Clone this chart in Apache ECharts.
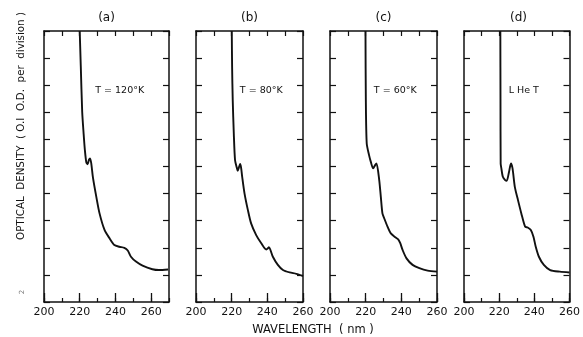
<!DOCTYPE html>
<html>
<head>
<meta charset="utf-8">
<script src="https://cdn.jsdelivr.net/npm/echarts@6/dist/echarts.min.js"></script>
<style>
  html, body { margin: 0; padding: 0; background: #fff; }
  #chart { width: 583px; height: 337px; }
</style>
</head>
<body>
<div id="chart"></div>
<script>
// Absorption spectra at four temperatures, optical density vs wavelength (nm)
const panelTitles = ['(a)', '(b)', '(c)', '(d)'];
const panelNotes = ['T = 120°K', 'T = 80°K', 'T = 60°K', 'L He T'];
const wavelengthMax = [270, 260, 260, 260];
const xTickLabels = [200, 220, 240, 260];

// [wavelength nm, optical density in divisions of 0.1 O.D.]
const spectrum120K = [
  [220.0, 10.0], [220.6, 8.7], [221.4, 7.0], [222.2, 6.2], [222.9, 5.6],
  [223.7, 5.15], [224.4, 5.08], [225.2, 5.25], [225.8, 5.3], [226.5, 5.1],
  [227.4, 4.6], [229.3, 3.88], [231.1, 3.27], [233.9, 2.66], [236.7, 2.35],
  [239.4, 2.1], [242.2, 2.04], [245.0, 2.0], [246.9, 1.9], [248.7, 1.67],
  [251.5, 1.49], [255.2, 1.34], [260.7, 1.21], [264.4, 1.18], [269.5, 1.2]
];
const spectrum80K = [
  [220.06, 10.0], [220.25, 8.67], [220.6, 7.44], [221.2, 6.21], [221.9, 5.23],
  [222.9, 4.95], [223.4, 4.84], [224.0, 4.95], [224.75, 5.09], [225.3, 4.95],
  [225.9, 4.62], [227.2, 4.01], [229.1, 3.39], [230.9, 2.9], [233.75, 2.47],
  [236.6, 2.17], [239.4, 1.94], [240.2, 1.97], [240.9, 2.02], [243.1, 1.67],
  [245.9, 1.37], [248.75, 1.18], [252.5, 1.09], [256.25, 1.04], [260.0, 0.96]
];
const spectrum60K = [
  [219.9, 10.0], [220.1, 7.44], [220.6, 5.85], [221.9, 5.42], [222.9, 5.17],
  [224.2, 4.93], [225.3, 5.05], [226.1, 5.11], [227.6, 4.5], [228.5, 3.88],
  [229.4, 3.27], [230.4, 3.09], [232.25, 2.78], [234.1, 2.53], [236.6, 2.39],
  [238.25, 2.31], [239.4, 2.17], [240.7, 1.92], [242.9, 1.61], [246.3, 1.37],
  [250.1, 1.25], [254.75, 1.16], [260.0, 1.12]
];
const spectrumLHeT = [
  [220.67, 10.0], [220.75, 7.5], [220.85, 5.11], [221.2, 4.95], [222.1, 4.62],
  [223.4, 4.5], [224.3, 4.47], [225.6, 4.8], [226.7, 5.11], [227.6, 4.93],
  [228.9, 4.25], [230.7, 3.76], [232.6, 3.27], [234.75, 2.78], [236.2, 2.75],
  [238.0, 2.66], [239.5, 2.41], [240.8, 2.04], [242.6, 1.67], [245.4, 1.37],
  [249.0, 1.18], [254.5, 1.12], [260.0, 1.09]
];
const spectra = [spectrum120K, spectrum80K, spectrum60K, spectrumLHeT];

const yAxisLabel = 'OPTICAL  DENSITY  ( O.I  O.D.  per  division )';
const xAxisLabel = 'WAVELENGTH  ( nm )';

// Panel frames in pixels
const frames = [
  { left: 44, width: 125 },
  { left: 196, width: 107 },
  { left: 330, width: 107 },
  { left: 464, width: 109 }
];
const frameTop = 31;
const frameHeight = 271;

const ink = '#111';
const fontFamily = 'DejaVu Sans';

const grids = [];
const xAxes = [];
const yAxes = [];
const series = [];
const graphics = [];

frames.forEach((f, i) => {
  grids.push({ left: f.left, top: frameTop, width: f.width, height: frameHeight, containLabel: false });
  const xmax = wavelengthMax[i];
  // labelled bottom axis, long ticks every 20 nm
  xAxes.push({
    type: 'value', gridIndex: i, position: 'bottom', min: 200, max: xmax, interval: 20,
    axisLine: { show: true, onZero: false, lineStyle: { color: ink, width: 1.5 } },
    axisTick: { show: true, inside: true, length: 9, lineStyle: { color: ink, width: 1.3 } },
    axisLabel: {
      show: true, margin: 5, color: ink, fontFamily, fontSize: 11, showMaxLabel: xmax % 20 === 0,
      formatter: v => (xTickLabels.indexOf(v) >= 0 ? String(v) : '')
    },
    splitLine: { show: false }
  });
  // short ticks every 10 nm on the bottom edge
  xAxes.push({
    type: 'value', gridIndex: i, position: 'bottom', min: 200, max: xmax, interval: 10,
    axisLine: { show: false, onZero: false },
    axisTick: { show: true, inside: true, length: 4, lineStyle: { color: ink, width: 1.2 } },
    axisLabel: { show: false }, splitLine: { show: false }
  });
  // top edge
  xAxes.push({
    type: 'value', gridIndex: i, position: 'top', min: 200, max: xmax, interval: 10,
    axisLine: { show: true, onZero: false, lineStyle: { color: ink, width: 1.5 } },
    axisTick: { show: true, inside: true, length: 5, lineStyle: { color: ink, width: 1.2 } },
    axisLabel: { show: false }, splitLine: { show: false }
  });
  ['left', 'right'].forEach(pos => {
    yAxes.push({
      type: 'value', gridIndex: i, position: pos, min: 0, max: 10, interval: 1,
      axisLine: { show: true, onZero: false, lineStyle: { color: ink, width: 1.5 } },
      axisTick: { show: true, inside: true, length: 6, lineStyle: { color: ink, width: 1.2 } },
      axisLabel: { show: false }, splitLine: { show: false }
    });
  });
  series.push({
    type: 'line', xAxisIndex: 3 * i, yAxisIndex: 2 * i,
    data: spectra[i], showSymbol: false, smooth: 0.25, clip: true,
    lineStyle: { color: ink, width: 1.9 }, silent: true, animation: false
  });
  graphics.push({
    type: 'text', x: f.left + f.width / 2, y: 18,
    style: { text: panelTitles[i], fill: ink, font: '12px ' + fontFamily, textAlign: 'center', textVerticalAlign: 'middle' }
  });
  graphics.push({
    type: 'text', x: f.left + f.width * 0.41, y: 91,
    style: { text: panelNotes[i], fill: ink, font: '9.5px ' + fontFamily, textAlign: 'left', textVerticalAlign: 'middle' }
  });
});

graphics.push({
  type: 'text', x: 21, y: 126, rotation: Math.PI / 2,
  style: { text: yAxisLabel, fill: ink, font: '10.3px ' + fontFamily, textAlign: 'center', textVerticalAlign: 'middle' }
});
graphics.push({
  type: 'text', x: 313, y: 330,
  style: { text: xAxisLabel, fill: ink, font: '11.5px ' + fontFamily, textAlign: 'center', textVerticalAlign: 'middle' }
});
graphics.push({
  type: 'text', x: 22, y: 292, rotation: Math.PI / 2,
  style: { text: '2', fill: '#777', font: '7px ' + fontFamily, textAlign: 'center', textVerticalAlign: 'middle' }
});

const chart = echarts.init(document.getElementById('chart'), null, { renderer: 'canvas' });
chart.setOption({
  animation: false,
  backgroundColor: '#fff',
  grid: grids,
  xAxis: xAxes,
  yAxis: yAxes,
  series: series,
  graphic: graphics
});
</script>
</body>
</html>
